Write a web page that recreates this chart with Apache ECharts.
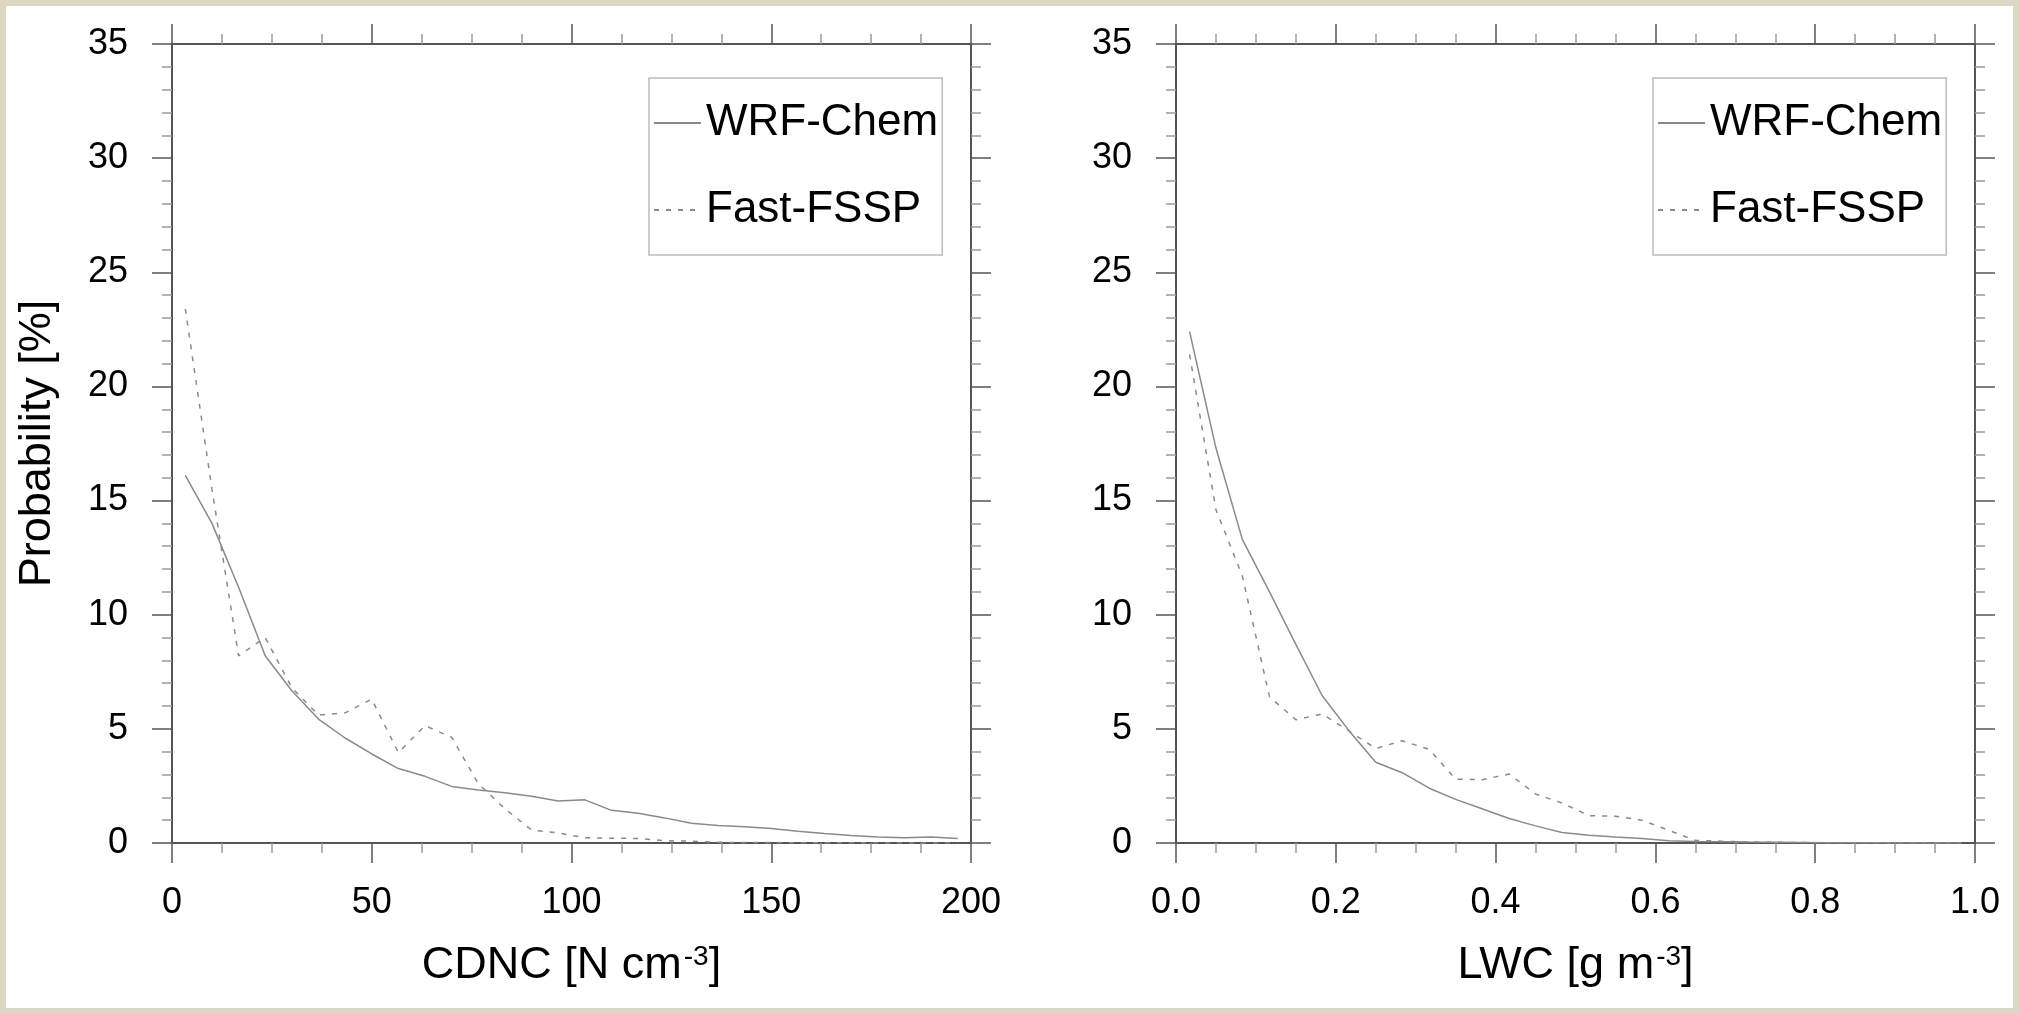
<!DOCTYPE html>
<html>
<head>
<meta charset="utf-8">
<script src="https://cdn.jsdelivr.net/npm/echarts@6/dist/echarts.min.js"></script>
<style>
  html, body { margin: 0; padding: 0; background: #ddd8c3; }
  #wrap { width: 2019px; height: 1014px; box-sizing: border-box; padding: 6px; background: #ddd8c3; }
  #chart { width: 2007px; height: 1002px; background: #ffffff; }
</style>
</head>
<body>
<div id="wrap"><div id="chart"></div></div>
<script>
// ---- Data ----
const seriesNames = ['WRF-Chem', 'Fast-FSSP'];

// Left panel: CDNC bins [N cm-3]
const cdncX = [3.33, 10, 16.67, 23.33, 30, 36.67, 43.33, 50, 56.67, 63.33, 70, 76.67, 83.33, 90, 96.67,
               103.33, 110, 116.67, 123.33, 130, 136.67, 143.33, 150, 156.67, 163.33, 170, 176.67, 183.33, 190, 196.67];
const cdncWRF = [16.1, 14.0, 11.2, 8.2, 6.67, 5.43, 4.6, 3.9, 3.26, 2.92, 2.48, 2.32, 2.2, 2.05, 1.84,
                 1.89, 1.43, 1.3, 1.1, 0.87, 0.77, 0.71, 0.63, 0.52, 0.42, 0.33, 0.26, 0.23, 0.26, 0.2];
const cdncFSSP = [23.4, 15.5, 8.2, 9.0, 6.8, 5.6, 5.7, 6.3, 3.96, 5.14, 4.63, 2.6, 1.5, 0.57, 0.44,
                  0.23, 0.21, 0.2, 0.1, 0.08, 0.03, 0.02, 0.02, 0.01, 0.01, 0.01, 0.0, 0.0, 0.0, 0.0];

// Right panel: LWC bins [g m-3]
const lwcX = [0.017, 0.05, 0.083, 0.117, 0.15, 0.183, 0.217, 0.25, 0.283, 0.317, 0.35, 0.383, 0.417, 0.45, 0.483,
              0.517, 0.55, 0.583, 0.617, 0.65, 0.683, 0.717, 0.75, 0.783, 0.817, 0.85, 0.883, 0.917, 0.95, 0.983];
const lwcWRF = [22.4, 17.3, 13.3, 11.0, 8.7, 6.45, 4.9, 3.54, 3.08, 2.4, 1.91, 1.5, 1.07, 0.75, 0.46,
                0.34, 0.26, 0.2, 0.1, 0.07, 0.06, 0.04, 0.03, 0.02, 0.01, 0.01, 0.01, 0.0, 0.0, 0.0];
const lwcFSSP = [21.4, 14.6, 11.7, 6.4, 5.4, 5.65, 4.9, 4.14, 4.48, 4.1, 2.8, 2.77, 3.02, 2.15, 1.75,
                 1.2, 1.17, 1.0, 0.55, 0.12, 0.08, 0.05, 0.03, 0.02, 0.01, 0.01, 0.0, 0.0, 0.0, 0.0];

// Axis ranges / tick labels
const cdncTicks = ['0', '50', '100', '150', '200'];
const lwcTicks = ['0.0', '0.2', '0.4', '0.6', '0.8', '1.0'];
const probTicks = ['0', '5', '10', '15', '20', '25', '30', '35'];

const FONT = "'Liberation Sans', Arial, Helvetica, sans-serif";
const AXIS_COLOR = '#555555';
const MINOR_COLOR = '#9a9a9a';
const LINE_COLOR = '#8a8a8a';

function pairs(xs, ys) { return xs.map((x, i) => [x, ys[i]]); }

function xAxisDef(grid, pos, min, max, interval, ticks, name, showLabel) {
  return {
    type: 'value', gridIndex: grid, position: pos, min: min, max: max, interval: interval,
    axisLine: { show: true, onZero: false, lineStyle: { color: AXIS_COLOR, width: 2 } },
    axisTick: { show: true, inside: false, length: 20, lineStyle: { color: AXIS_COLOR, width: 1.5 } },
    minorTick: { show: true, splitNumber: 4, length: 10, lineStyle: { color: MINOR_COLOR, width: 1.5 } },
    splitLine: { show: false },
    axisLabel: {
      show: showLabel, margin: 42, fontSize: 36, color: '#000', fontFamily: FONT,
      formatter: (v) => ticks[Math.round((v - min) / interval)]
    },
    name: name, nameLocation: 'middle', nameGap: 100,
    nameTextStyle: {
      fontFamily: FONT, color: '#000',
      rich: {
        a: { fontSize: 45, fontFamily: FONT, color: '#000' },
        s: { fontSize: 28, fontFamily: FONT, color: '#000', verticalAlign: 'top', padding: [0, 0, 0, 2] }
      }
    }
  };
}

function yAxisDef(grid, pos, showLabel, name) {
  return {
    type: 'value', gridIndex: grid, position: pos, min: 0, max: 35, interval: 5,
    axisLine: { show: true, onZero: false, lineStyle: { color: AXIS_COLOR, width: 2 } },
    axisTick: { show: true, inside: false, length: 20, lineStyle: { color: AXIS_COLOR, width: 1.5 } },
    minorTick: { show: true, splitNumber: 5, length: 10, lineStyle: { color: MINOR_COLOR, width: 1.5 } },
    splitLine: { show: false },
    axisLabel: {
      show: showLabel, margin: 44, fontSize: 36, color: '#000', fontFamily: FONT,
      formatter: (v) => probTicks[Math.round(v / 5)]
    },
    name: name, nameLocation: 'middle', nameGap: 112,
    nameTextStyle: { fontSize: 45, fontFamily: FONT, color: '#000' }
  };
}

function lineSeries(name, data, xi, yi, dashed) {
  return {
    type: 'line', name: name, data: data, xAxisIndex: xi, yAxisIndex: yi,
    symbol: 'none', showSymbol: false, smooth: false, animation: false,
    lineStyle: { color: LINE_COLOR, width: 1.5, type: dashed ? [5, 7] : 'solid' },
    itemStyle: { color: LINE_COLOR }
  };
}

function legendDef(left) {
  return {
    orient: 'vertical', left: left, top: 72,
    data: seriesNames,
    itemWidth: 47, itemHeight: 14, itemGap: 37,
    padding: [20, 4, 20, 4],
    borderColor: '#bcbcbc', borderWidth: 1.5,
    itemStyle: { color: 'rgba(0,0,0,0)', borderWidth: 0, opacity: 0 },
    textStyle: { fontSize: 44, fontFamily: FONT, color: '#000', lineHeight: 50 },
    selectedMode: false
  };
}

const option = {
  animation: false,
  backgroundColor: '#ffffff',
  grid: [
    { left: 166, top: 38, width: 799, height: 799 },
    { left: 1170, top: 38, width: 799, height: 799 }
  ],
  legend: [legendDef(643), legendDef(1647)],
  xAxis: [
    xAxisDef(0, 'bottom', 0, 200, 50, cdncTicks, '{a|CDNC [N cm}{s|-3}{a|]}', true),
    xAxisDef(0, 'top', 0, 200, 50, cdncTicks, '', false),
    xAxisDef(1, 'bottom', 0, 1, 0.2, lwcTicks, '{a|LWC [g m}{s|-3}{a|]}', true),
    xAxisDef(1, 'top', 0, 1, 0.2, lwcTicks, '', false)
  ],
  yAxis: [
    yAxisDef(0, 'left', true, 'Probability [%]'),
    yAxisDef(0, 'right', false, ''),
    yAxisDef(1, 'left', true, ''),
    yAxisDef(1, 'right', false, '')
  ],
  series: [
    lineSeries(seriesNames[0], pairs(cdncX, cdncWRF), 0, 0, false),
    lineSeries(seriesNames[1], pairs(cdncX, cdncFSSP), 0, 0, true),
    lineSeries(seriesNames[0], pairs(lwcX, lwcWRF), 2, 2, false),
    lineSeries(seriesNames[1], pairs(lwcX, lwcFSSP), 2, 2, true)
  ]
};

const chart = echarts.init(document.getElementById('chart'), null, { renderer: 'canvas' });
chart.setOption(option);
</script>
</body>
</html>
